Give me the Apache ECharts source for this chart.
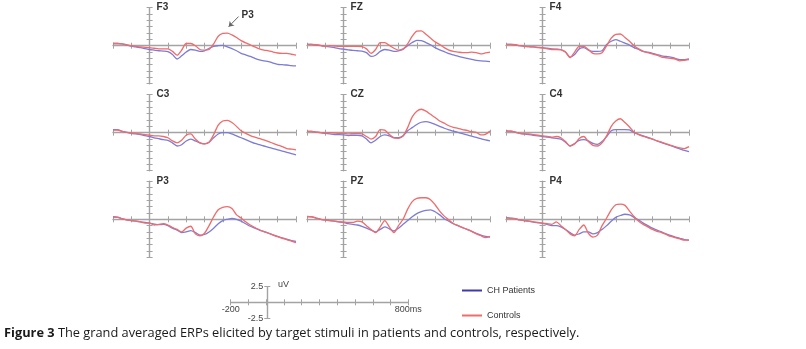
<!DOCTYPE html>
<html>
<head>
<meta charset="utf-8">
<script src="https://cdn.jsdelivr.net/npm/echarts@6/dist/echarts.min.js"></script>
<style>
  html, body { margin: 0; padding: 0; background: #ffffff; }
  #chart { width: 806px; height: 349px; }
</style>
</head>
<body>
<div id="chart"></div>
<script>
// Sample times (ms), shared by every channel
const times = [-200,-175,-150,-125,-100,-75,-50,-25,0,25,50,75,100,125,150,175,200,225,250,275,300,
               325,350,375,400,425,450,475,500,525,550,575,600,625,650,675,700,725,750,775,800];

// Electrode sites, read row by row
const channels = ['F3', 'FZ', 'F4', 'C3', 'CZ', 'C4', 'P3', 'PZ', 'P4'];

// Grand averaged amplitudes (uV): CH patients
const patF3 = [0.35,0.35,0.3,0.1,-0.05,-0.2,-0.3,-0.45,-0.6,-0.7,-0.8,-0.85,-0.95,-1.4,-2.1,-1.6,-1.0,-0.6,-0.7,-0.9,-0.8,-0.4,-0.1,0.0,0.05,-0.2,-0.45,-0.8,-1.2,-1.45,-1.7,-2.0,-2.25,-2.4,-2.5,-2.75,-2.95,-3.0,-3.05,-3.15,-3.2];
const patFZ = [0.2,0.2,0.1,0,-0.1,-0.2,-0.3,-0.45,-0.55,-0.65,-0.75,-0.8,-0.85,-1.1,-1.7,-1.5,-0.9,-0.6,-0.7,-0.9,-0.8,-0.5,0.0,0.5,0.85,0.8,0.5,0.15,-0.3,-0.65,-0.95,-1.25,-1.45,-1.65,-1.85,-2.0,-2.15,-2.3,-2.4,-2.45,-2.5];
const patF4 = [0.2,0.2,0.15,0.0,-0.1,-0.15,-0.2,-0.25,-0.3,-0.4,-0.5,-0.55,-0.6,-1.0,-1.8,-1.4,-0.5,-0.3,-0.7,-0.9,-0.9,-0.8,0.2,0.7,0.95,0.7,0.4,0.1,-0.3,-0.6,-0.9,-1.0,-1.2,-1.4,-1.6,-1.7,-1.8,-2.0,-2.2,-2.2,-2.1];
const patC3 = [0.5,0.5,0.2,0.05,-0.1,-0.2,-0.3,-0.45,-0.6,-0.8,-0.95,-1.1,-1.2,-1.6,-2.1,-1.9,-1.3,-1.0,-1.3,-1.6,-1.75,-1.5,-0.8,-0.2,0.0,0.0,-0.2,-0.5,-0.8,-1.1,-1.4,-1.7,-1.9,-2.1,-2.3,-2.5,-2.7,-2.9,-3.1,-3.3,-3.5];
const patCZ = [0.2,0.2,0.1,0,-0.1,-0.2,-0.3,-0.3,-0.35,-0.45,-0.4,-0.4,-0.5,-1.0,-1.6,-1.2,-0.6,-0.35,-0.5,-0.8,-0.8,-0.5,0.3,0.8,1.3,1.65,1.75,1.6,1.3,1.0,0.7,0.45,0.25,0.05,-0.15,-0.35,-0.55,-0.75,-0.95,-1.15,-1.3];
const patC4 = [0.3,0.25,0.1,-0.1,-0.2,-0.3,-0.4,-0.5,-0.6,-0.7,-0.8,-0.9,-1.0,-1.5,-2.1,-1.7,-1.2,-1.1,-1.3,-1.7,-1.85,-1.4,-0.6,0.3,0.5,0.5,0.5,0.45,0.0,-0.25,-0.5,-0.75,-1.0,-1.3,-1.55,-1.8,-2.05,-2.3,-2.55,-2.8,-3.0];
const patP3 = [0.4,0.35,0.1,-0.1,-0.2,-0.3,-0.4,-0.5,-0.6,-0.75,-0.85,-0.8,-1.0,-1.4,-1.7,-2.1,-2.0,-1.8,-2.1,-2.5,-2.4,-2.0,-1.4,-0.7,-0.2,0.0,0.15,0.0,-0.3,-0.7,-1.1,-1.4,-1.7,-1.95,-2.2,-2.45,-2.7,-2.95,-3.15,-3.35,-3.5];
const patPZ = [0.45,0.4,0.2,0,-0.1,-0.2,-0.3,-0.4,-0.5,-0.7,-0.8,-0.9,-1.1,-1.4,-1.7,-2.0,-1.6,-1.2,-1.5,-1.85,-1.4,-0.8,-0.2,0.4,0.9,1.2,1.4,1.5,1.2,0.7,0.1,-0.3,-0.7,-1.0,-1.3,-1.6,-1.9,-2.2,-2.5,-2.7,-2.8];
const patP4 = [0.25,0.2,0.1,-0.1,-0.2,-0.3,-0.45,-0.55,-0.65,-0.8,-1.0,-1.0,-1.2,-1.6,-2.1,-2.5,-2.3,-2.0,-2.0,-2.3,-2.1,-1.6,-1.0,-0.3,0.3,0.6,0.8,0.7,0.3,-0.1,-0.6,-1.0,-1.4,-1.7,-2.0,-2.3,-2.55,-2.8,-3.0,-3.2,-3.3];

// Grand averaged amplitudes (uV): controls
const ctlF3 = [0.35,0.35,0.3,0.15,0,-0.1,-0.2,-0.25,-0.3,-0.4,-0.5,-0.5,-0.5,-0.9,-1.5,-0.7,0.35,0.35,0,-0.6,-0.7,-0.6,0.3,1.5,1.95,2.0,1.7,1.3,0.8,0.45,0.15,-0.2,-0.5,-0.7,-0.8,-1.0,-1.15,-1.2,-1.2,-1.35,-1.5];
const ctlFZ = [0.2,0.2,0.15,0.05,-0.1,0,-0.05,-0.1,-0.1,-0.1,-0.1,-0.1,-0.15,-0.5,-1.2,-0.6,0.5,0.5,0.05,-0.4,-0.7,-0.6,0.3,1.5,2.3,2.35,1.8,1.2,0.6,0.2,-0.3,-0.7,-0.9,-1.0,-1.1,-1.1,-1.0,-1.1,-1.3,-1.15,-1.0];
const ctlF4 = [0.2,0.2,0.15,0.0,-0.1,-0.15,-0.2,-0.3,-0.35,-0.5,-0.6,-0.6,-0.65,-1.0,-1.9,-1.0,-0.1,-0.1,-0.6,-1.2,-1.3,-1.1,0.0,1.2,1.8,1.85,1.3,0.7,0.0,-0.5,-0.9,-1.1,-1.3,-1.5,-1.8,-1.9,-2.0,-2.1,-2.4,-2.3,-2.2];
const ctlC3 = [0.4,0.4,0.2,0.05,-0.05,-0.1,-0.2,-0.3,-0.4,-0.5,-0.5,-0.6,-0.8,-1.3,-1.6,-1.2,-0.4,-0.2,-1.0,-1.6,-1.75,-1.5,-0.3,1.2,1.85,1.95,1.6,1.0,0.3,-0.1,-0.45,-0.7,-0.9,-1.15,-1.4,-1.7,-1.95,-2.2,-2.5,-2.6,-2.7];
const ctlCZ = [0.2,0.2,0.1,0.0,-0.05,0,-0.05,-0.1,-0.1,-0.2,-0.15,-0.1,-0.2,-0.6,-1.0,-0.6,0.5,0.4,-0.3,-0.8,-0.9,-0.5,0.8,2.5,3.4,3.7,3.4,2.9,2.4,1.85,1.5,1.1,0.85,0.7,0.5,0.35,0.15,0.05,-0.35,-0.25,0.25];
const ctlC4 = [0.3,0.25,0.1,-0.1,-0.2,-0.2,-0.3,-0.4,-0.5,-0.6,-0.7,-0.6,-0.8,-1.4,-2.1,-1.8,-0.9,-0.6,-1.4,-2.0,-2.1,-1.6,-0.5,1.0,1.85,2.2,1.6,0.9,0.1,-0.3,-0.6,-0.8,-1.0,-1.3,-1.5,-1.75,-2.0,-2.2,-2.4,-2.5,-2.2];
const ctlP3 = [0.35,0.3,0.1,-0.1,-0.2,-0.3,-0.4,-0.6,-0.6,-0.9,-0.8,-0.7,-0.9,-1.3,-1.6,-2.0,-1.4,-1.1,-2.3,-2.6,-2.2,-1.0,0.4,1.5,1.9,2.0,1.7,0.7,0.2,-0.4,-0.9,-1.3,-1.65,-1.95,-2.2,-2.5,-2.75,-3.0,-3.2,-3.45,-3.7];
const ctlPZ = [0.4,0.4,0.2,0,-0.1,-0.2,-0.3,-0.4,-0.45,-0.5,-0.5,-0.3,-0.4,-1.0,-1.6,-2.1,-1.2,-0.2,-1.2,-2.1,-1.0,0.0,1.6,2.8,3.3,3.4,3.4,3.1,2.3,1.3,0.5,-0.1,-0.7,-1.0,-1.3,-1.6,-1.9,-2.3,-2.6,-2.9,-2.7];
const ctlP4 = [0.2,0.15,0.1,-0.1,-0.2,-0.3,-0.4,-0.5,-0.6,-0.7,-0.8,-0.4,-1.0,-1.6,-2.3,-2.6,-1.6,-0.9,-2.2,-2.8,-2.5,-1.0,0.2,1.5,2.3,2.4,2.2,1.3,0.4,-0.3,-0.8,-1.2,-1.6,-1.9,-2.1,-2.4,-2.7,-2.9,-3.1,-3.3,-3.3];

const patients = [patF3, patFZ, patF4, patC3, patCZ, patC4, patP3, patPZ, patP4];
const controls = [ctlF3, ctlFZ, ctlF4, ctlC3, ctlCZ, ctlC4, ctlP3, ctlPZ, ctlP4];

// Scale bar tick labels
const scaleTimeLabels = { '-200': '-200', '800': '800ms' };
const scaleAmpLabels = { '2.5': '2.5', '-2.5': '-2.5' };

[...patients, ...controls].forEach((arr, k) => {
  if (arr.length !== times.length) throw new Error('length mismatch in series ' + k + ': ' + arr.length);
});

// ---- layout & style ----
const COL_LEFT = [113, 307, 506];
const ROW_ZERO = [45.7, 132.7, 219.3];
const PANEL_W = 183, HALF_H = 38;
const AXIS_COLOR = '#a3a3a3';
const BLUE = '#7c7cd8', RED = '#f06b6b';
const FONT = 'Liberation Sans, Arial, sans-serif';

const grid = [], xAxis = [], yAxis = [], series = [];

// Two overlapping axes per dimension: one with ticks outside, one inside,
// so every tick mark crosses the axis line.
function axisPair(dim, gi, range, opts) {
  const list = dim === 'x' ? xAxis : yAxis;
  const first = list.length;
  const line = { color: AXIS_COLOR, width: 1.4 };
  [false, true].forEach((inside, k) => {
    const ax = {
      type: 'value', gridIndex: gi, min: range.min, max: range.max, interval: range.interval,
      position: dim === 'x' ? 'bottom' : 'left',
      axisLine: { show: true, onZero: !!opts.onZeroIndex || opts.onZeroIndex === 0,
                  lineStyle: Object.assign({}, line, { opacity: k ? 0 : 1 }) },
      axisTick: { show: true, inside, length: 3, lineStyle: { color: AXIS_COLOR, width: 1 } },
      axisLabel: { show: false }, splitLine: { show: false }
    };
    if (ax.axisLine.onZero) ax.axisLine.onZeroAxisIndex = opts.onZeroIndex;
    if (k === 0 && opts.extra) Object.assign(ax, opts.extra);
    list.push(ax);
  });
  return first;
}

function hiddenAxis(dim, gi) {
  const list = dim === 'x' ? xAxis : yAxis;
  list.push({ type: 'value', gridIndex: gi, min: -1, max: 1, show: false });
  return list.length - 1;
}

channels.forEach((ch, i) => {
  const col = i % 3, row = Math.floor(i / 3);
  grid.push({ left: COL_LEFT[col], top: ROW_ZERO[row] - HALF_H, width: PANEL_W, height: HALF_H * 2 });
  const xi = xAxis.length, yi = yAxis.length;
  axisPair('x', i, { min: -200, max: 800, interval: 100 }, { onZeroIndex: yi });
  axisPair('y', i, { min: -6, max: 6, interval: 1 }, {
    onZeroIndex: xi,
    extra: {
      name: ch, nameLocation: 'end', nameGap: 0,
      nameTextStyle: { align: 'left', verticalAlign: 'middle', padding: [0, 0, 0, 7],
                       fontFamily: FONT, fontSize: 10, fontWeight: 'bold', color: '#333' }
    }
  });
  const pts = arr => times.map((t, k) => [t, arr[k]]);
  series.push({
    name: 'CH Patients', type: 'line', xAxisIndex: xi, yAxisIndex: yi, data: pts(patients[i]),
    showSymbol: false, smooth: 0.25, itemStyle: { color: '#3c3ca8' },
    lineStyle: { color: BLUE, width: 1.3 }
  });
  const ctl = {
    name: 'Controls', type: 'line', xAxisIndex: xi, yAxisIndex: yi, data: pts(controls[i]),
    showSymbol: false, smooth: 0.25, itemStyle: { color: RED },
    lineStyle: { color: RED, width: 1.3 }
  };
  if (ch === 'F3') {
    // P3 component marker with its arrow
    ctl.markLine = {
      silent: true, symbol: ['none', 'arrow'], symbolSize: 5, label: { show: false },
      lineStyle: { color: '#666', width: 1, type: 'solid' },
      data: [[{ coord: [486, 4.6] }, { coord: [432, 3.0] }]]
    };
    ctl.markPoint = {
      silent: true, symbol: 'circle', symbolSize: 0,
      label: { show: true, position: 'inside', formatter: 'P3', fontFamily: FONT, fontSize: 10,
               fontWeight: 'bold', color: '#333' },
      data: [{ coord: [536, 4.85] }]
    };
  }
  series.push(ctl);
});

// Scale bar: time axis in one grid, amplitude axis in another
const labelStyle = { show: true, fontFamily: FONT, fontSize: 9, color: '#444' };
const gT = grid.length;
grid.push({ left: 230.7, top: 286.7, width: 177.6, height: 15.6 });
axisPair('x', gT, { min: -200, max: 800, interval: 100 }, {
  extra: { axisLabel: Object.assign({}, labelStyle, { margin: 3, formatter: v => scaleTimeLabels[String(v)] || '' }) }
});
hiddenAxis('y', gT);
const gA = grid.length;
grid.push({ left: 267.3, top: 286.7, width: 20, height: 31.6 });
axisPair('y', gA, { min: -2.5, max: 2.5, interval: 2.5 }, {
  extra: { axisLabel: Object.assign({}, labelStyle, { margin: 4, formatter: v => scaleAmpLabels[String(v)] || '' }) }
});
hiddenAxis('x', gA);

const chart = echarts.init(document.getElementById('chart'), null, { renderer: 'canvas' });
chart.setOption({
  animation: false,
  backgroundColor: '#ffffff',
  grid, xAxis, yAxis, series,
  legend: {
    orient: 'vertical', left: 462, top: 286, padding: 0, icon: 'rect', itemWidth: 20, itemHeight: 2, itemGap: 16,
    data: ['CH Patients', 'Controls'],
    textStyle: { fontFamily: FONT, fontSize: 9, color: '#333' }
  },
  graphic: [
    { type: 'text', left: 278, top: 280,
      style: { text: 'uV', fontFamily: FONT, fontSize: 9, fill: '#444' } },
    { type: 'text', left: 4, top: 327,
      style: {
        text: '{b|Figure 3} The grand averaged ERPs elicited by target stimuli in patients and controls, respectively.',
        fontFamily: 'Open Sans, sans-serif', fontSize: 12.8, fill: '#1a1a1a',
        rich: { b: { fontFamily: 'Open Sans, sans-serif', fontSize: 12.8, fontWeight: 'bold', fill: '#1a1a1a' } }
      } }
  ]
});
</script>
</body>
</html>
